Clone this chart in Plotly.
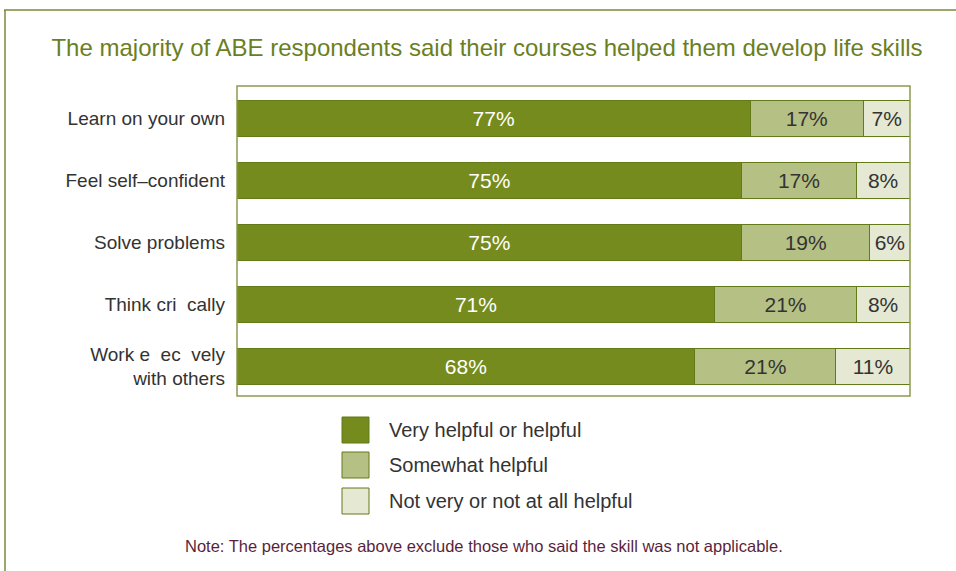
import plotly.graph_objects as go

# ---- data ----
categories = ["Learn on your own", "Feel self–confident", "Solve problems",
              "Think cri  cally", "Work e  ec  vely<br>with others"]
very_helpful = [77, 75, 75, 71, 68]
somewhat_helpful = [17, 17, 19, 21, 21]
not_helpful = [7, 8, 6, 8, 11]
series_names = ["Very helpful or helpful", "Somewhat helpful", "Not very or not at all helpful"]
title_text = "The majority of ABE respondents said their courses helped them develop life skills"
note_text = "Note: The percentages above exclude those who said the skill was not applicable."

# ---- styles ----
W, H = 956, 571
L, R, T, B = 237, 910, 86, 396
colors = ["#758b1e", "#b5c085", "#e5e8d2"]
text_colors = ["#ffffff", "#333333", "#333333"]
edge = "#627a18"
FONT = "Liberation Sans"

def px(x):
    return (x - L) / (R - L)

def py(y):
    return (B - y) / (B - T)

fig = go.Figure()
for name, vals, c, tc in zip(series_names, [very_helpful, somewhat_helpful, not_helpful], colors, text_colors):
    fig.add_trace(go.Bar(
        y=categories, x=vals, orientation="h", name=name,
        marker=dict(color=c, line=dict(color=edge, width=1)),
        text=[f"{v}%" for v in vals], textposition="inside", insidetextanchor="middle",
        textfont=dict(family=FONT, size=21, color=tc), constraintext="none",
        width=0.58, showlegend=False,
    ))

fig.update_layout(
    width=W, height=H, barmode="stack", barnorm="percent",
    margin=dict(l=L, r=W - R, t=T, b=H - B),
    paper_bgcolor="white", plot_bgcolor="white",
    font=dict(family=FONT, size=19, color="#333333"),
    xaxis=dict(range=[0, 100], visible=False, fixedrange=True),
    yaxis=dict(autorange=False, range=[4.48, -0.52], showgrid=False, zeroline=False,
               ticks="", ticklabelstandoff=11, tickfont=dict(family=FONT, size=19, color="#333333")),
    title=dict(text=title_text, x=487 / W, xanchor="center", xref="container",
               y=1 - 48 / H, yanchor="middle", yref="container",
               font=dict(family=FONT, size=24, color="#6b7f1f")),
)

shapes = []
# plot frame
shapes.append(dict(type="rect", xref="paper", yref="paper", x0=0, x1=1, y0=0, y1=1,
                   line=dict(color="#8a9a50", width=1.5), fillcolor="rgba(0,0,0,0)", layer="above"))
# outer frame lines
shapes.append(dict(type="line", xref="paper", yref="paper", x0=px(4), x1=px(956), y0=py(10), y1=py(10),
                   line=dict(color="#7a8a3a", width=1.5)))
shapes.append(dict(type="line", xref="paper", yref="paper", x0=px(5), x1=px(5), y0=py(10), y1=py(571),
                   line=dict(color="#7a8a3a", width=1.5)))

annotations = []
legend_tops = [417, 452, 488]
for name, c, top in zip(series_names, colors, legend_tops):
    shapes.append(dict(type="rect", xref="paper", yref="paper", x0=px(342), x1=px(369),
                       y0=py(top + 26), y1=py(top), fillcolor=c, line=dict(color=edge, width=1)))
    annotations.append(dict(text=name, xref="paper", yref="paper", x=px(387), y=py(top + 13),
                            xanchor="left", yanchor="middle", showarrow=False,
                            font=dict(family=FONT, size=20, color="#333333")))
annotations.append(dict(text=note_text, xref="paper", yref="paper", x=px(484), y=py(546),
                        xanchor="center", yanchor="middle", showarrow=False,
                        font=dict(family=FONT, size=16.5, color="#5b1f3c")))

fig.update_layout(shapes=shapes, annotations=annotations)
fig.write_html("out.html", config={"displayModeBar": False},
               post_script="document.body.style.margin='0';")
